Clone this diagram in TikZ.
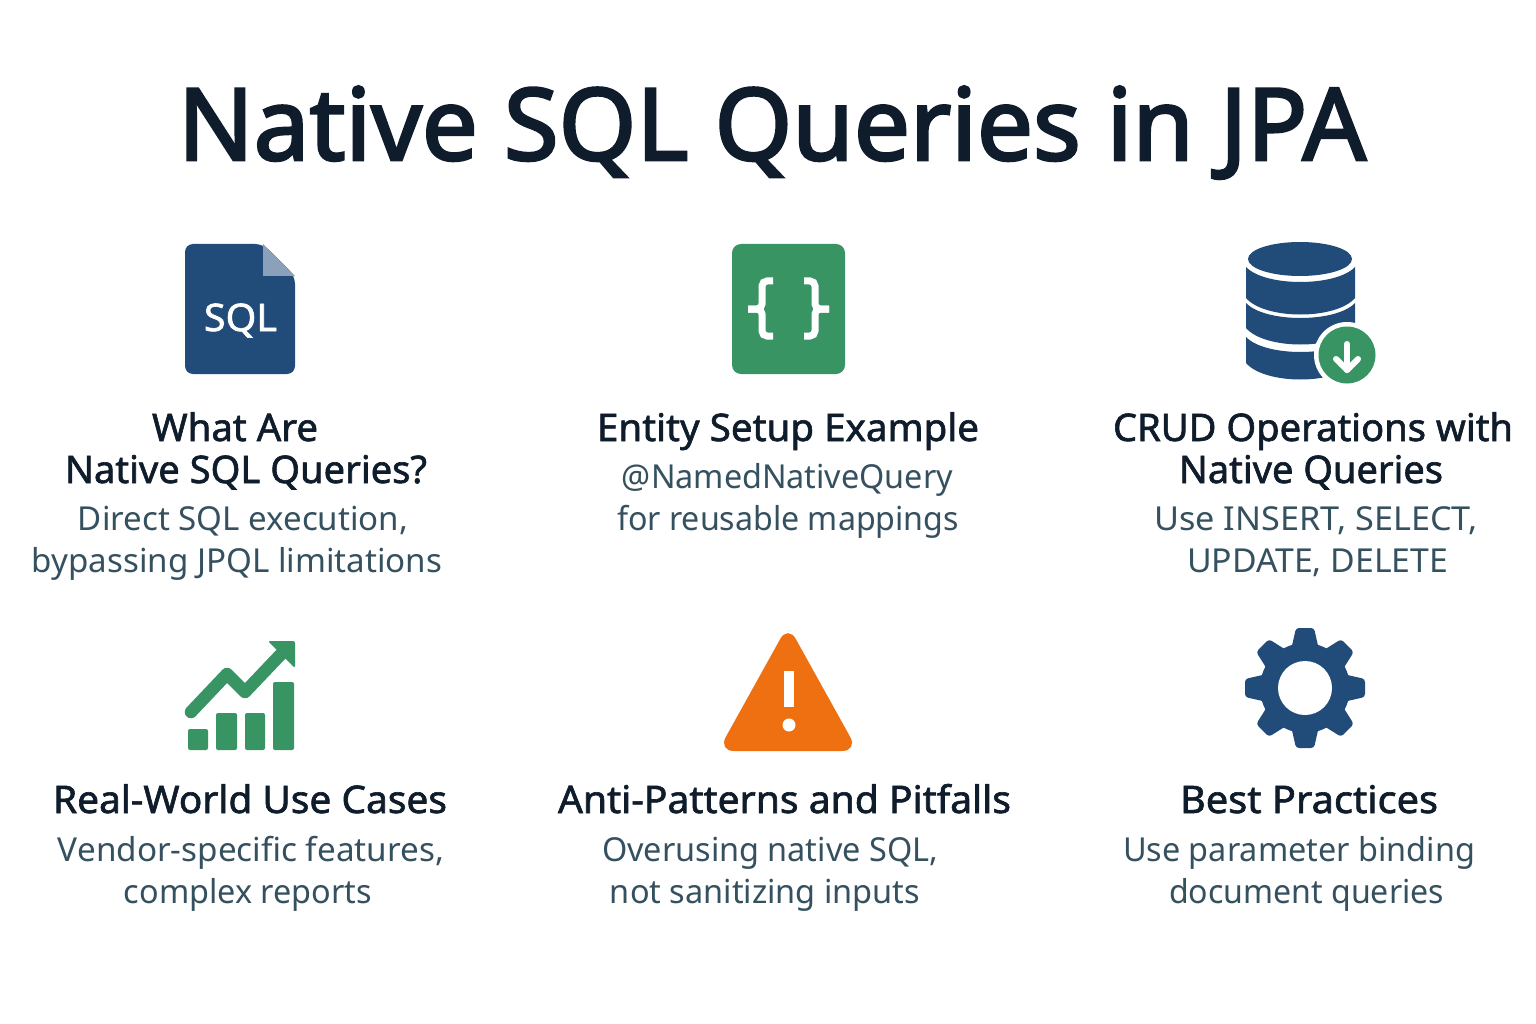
\documentclass[tikz,border=0pt]{standalone}
\usepackage{fontspec}
\setmainfont{Noto Sans}
\newfontfamily\titlefont[FakeBold=2.6]{Noto Sans}
\newfontfamily\headfont[FakeBold=1.6]{Noto Sans}
\definecolor{inkdark}{HTML}{0F1C2B}
\definecolor{inkbody}{HTML}{35505F}
\definecolor{navyicon}{HTML}{214B78}
\definecolor{foldicon}{HTML}{8AA0BB}
\definecolor{greenicon}{HTML}{389463}
\definecolor{orangeicon}{HTML}{EE7011}
\newcommand{\dbband}[2]{\fill[navyicon] (1246,#1) .. controls (1265,#1+20) and (1336,#1+20) .. (1355,#1) -- (1355,#2) .. controls (1336,#2+22) and (1265,#2+22) .. (1246,#2) -- cycle;}
\newcommand{\fitw}[2]{\resizebox{#1pt}{\height}{#2}}
\tikzset{
  titletext/.style={text=inkdark,font=\titlefont\fontsize{100}{104}\selectfont,inner sep=0pt,anchor=base},
  headtext/.style={text=inkdark,font=\headfont\fontsize{38}{40}\selectfont,inner sep=0pt,anchor=base},
  bodytext/.style={text=inkbody,font=\fontsize{33}{38}\selectfont,inner sep=0pt,anchor=base},
}
\begin{document}
\begin{tikzpicture}[x=1pt,y=-1pt]
  \useasboundingbox (0,0) rectangle (1536,1024);
  \fill[white] (0,0) rectangle (1536,1024);
  % title
  \node[titletext] (title) at (772,160) {\fitw{1188}{Native SQL Queries in JPA}};
  % sql file
  \fill[navyicon,rounded corners=8pt] (185,244) -- (263,244) -- (295,276) -- (295,374) -- (185,374) -- cycle;
  \fill[foldicon] (263,244) -- (295,276) -- (263,276) -- cycle;
  \node[text=white,font=\headfont\fontsize{38}{40}\selectfont,inner sep=0pt,anchor=base] (sqltag) at (240.5,331) {\fitw{73}{SQL}};
  % braces
  \fill[greenicon,rounded corners=9pt] (732,244) rectangle (845,374);
  \draw[white,line width=7pt,rounded corners=5pt] (773,281) -- (762,281) -- (762,309) -- (748,309);
  \draw[white,line width=7pt,rounded corners=5pt] (773,336) -- (762,336) -- (762,309) -- (748,309);
  \draw[white,line width=7pt,rounded corners=5pt] (804,281) -- (815,281) -- (815,309) -- (829,309);
  \draw[white,line width=7pt,rounded corners=5pt] (804,336) -- (815,336) -- (815,309) -- (829,309);
  % database
  \fill[navyicon] (1300,259) ellipse (52pt and 17pt);
  \dbband{267}{298}
  \dbband{303}{328}
  \dbband{337}{363}
  \fill[white] (1347,355) circle (33pt);
  \fill[greenicon] (1347,355) circle (28.5pt);
  \draw[white,line width=6pt,line cap=round,line join=round] (1347,344) -- (1347,370);
  \draw[white,line width=6pt,line cap=round,line join=round] (1336,359) -- (1347,370) -- (1358,359);
  % chart
  \fill[greenicon,rounded corners=2pt] (188,729) rectangle (208,750);
  \fill[greenicon,rounded corners=2pt] (216,713) rectangle (237,750);
  \fill[greenicon,rounded corners=2pt] (245,713) rectangle (265,750);
  \fill[greenicon,rounded corners=2pt] (273,682) rectangle (294,750);
  \draw[greenicon,line width=12.5pt,line cap=round,line join=round] (191,712) -- (227,674) -- (245,692) -- (284,651);
  \fill[greenicon,rounded corners=2pt] (268,641) -- (295,641) -- (295,668) -- cycle;
  % warning
  \fill[orangeicon,rounded corners=16pt] (788,625) -- (858,751) -- (718,751) -- cycle;
  \fill[white] (784,671) rectangle (794,707);
  \fill[white] (789,725) circle (6.5pt);
  % gear
  \coordinate (gearc) at (1305,688);
  \foreach \a in {0,45,...,315}
    \fill[navyicon,rounded corners=3pt,rotate around={\a:(gearc)}] (1291,650) -- (1296,628) -- (1314,628) -- (1319,650) -- cycle;
  \fill[navyicon] (gearc) circle (45pt);
  \fill[white] (gearc) circle (27pt);
  % texts, top row
  \node[headtext] (whatA) at (235,441) {\fitw{166}{What Are}};
  \node[headtext] (whatB) at (246,483) {\fitw{362}{Native SQL Queries?}};
  \node[bodytext] (whatC) at (243,530) {\fitw{330}{Direct SQL execution,}};
  \node[bodytext] (whatD) at (237,572) {\fitw{410}{bypassing JPQL limitations}};
  \node[headtext] (entityA) at (788,441) {\fitw{382}{Entity Setup Example}};
  \node[bodytext] (entityB) at (787.5,488) {\fitw{331}{@NamedNativeQuery}};
  \node[bodytext] (entityC) at (788,530) {\fitw{342}{for reusable mappings}};
  \node[headtext] (crudA) at (1313,441) {\fitw{400}{CRUD Operations with}};
  \node[headtext] (crudB) at (1311,483) {\fitw{264}{Native Queries}};
  \node[bodytext] (crudC) at (1316,530) {\fitw{324}{Use INSERT, SELECT,}};
  \node[bodytext] (crudD) at (1317.5,572) {\fitw{261}{UPDATE, DELETE}};
  % texts, bottom row
  \node[headtext] (casesA) at (250,813) {\fitw{394}{Real-World Use Cases}};
  \node[bodytext] (casesB) at (251,861) {\fitw{386}{Vendor-specific features,}};
  \node[bodytext] (casesC) at (248,903) {\fitw{248}{complex reports}};
  \node[headtext] (pitA) at (784.5,813) {\fitw{453}{Anti-Patterns and Pitfalls}};
  \node[bodytext] (pitB) at (770,861) {\fitw{336}{Overusing native SQL,}};
  \node[bodytext] (pitC) at (765,903) {\fitw{310}{not sanitizing inputs}};
  \node[headtext] (bestA) at (1309,813) {\fitw{258}{Best Practices}};
  \node[bodytext] (bestB) at (1299,861) {\fitw{352}{Use parameter binding}};
  \node[bodytext] (bestC) at (1306.5,903) {\fitw{275}{document queries}};
\end{tikzpicture}
\end{document}
